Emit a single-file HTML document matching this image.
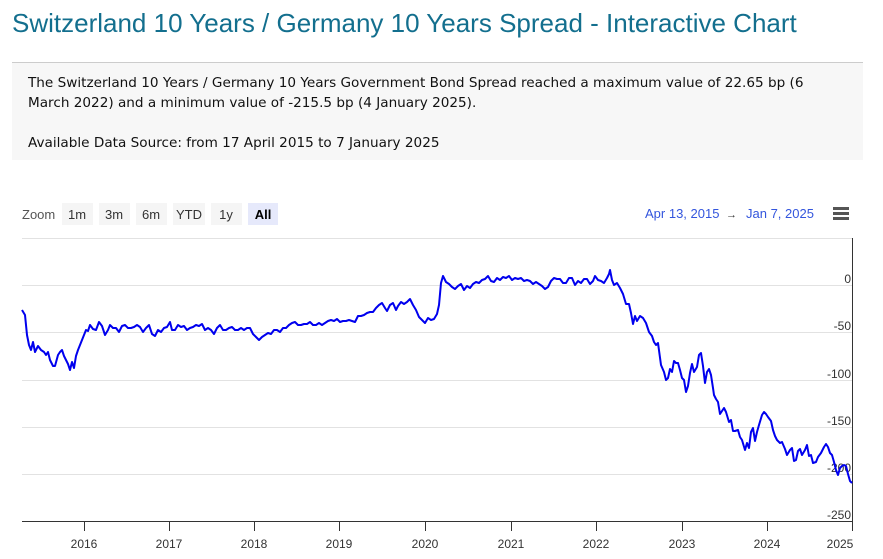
<!DOCTYPE html>
<html><head><style>
body{margin:0;width:883px;height:559px;background:#fff;position:relative;overflow:hidden;font-family:"Liberation Sans",sans-serif}
h1{position:absolute;left:12px;top:8px;margin:0;font-weight:normal;font-size:26px;color:#136f8e;white-space:nowrap}
.box{position:absolute;left:12px;top:62px;width:851px;height:97px;background:#f7f7f7;border-top:1px solid #ccc}
.box p{margin:0;position:absolute;left:16px;font-family:"DejaVu Sans",sans-serif;font-size:13.6px;line-height:20px;color:#111;width:820px}
</style></head><body>
<h1>Switzerland 10 Years / Germany 10 Years Spread - Interactive Chart</h1>
<div class="box">
<p style="top:10px">The Switzerland 10 Years / Germany 10 Years Government Bond Spread reached a maximum value of 22.65 bp (6 March 2022) and a minimum value of -215.5 bp (4 January 2025).</p>
<p style="top:70px">Available Data Source: from 17 April 2015 to 7 January 2025</p>
</div>
<svg width="883" height="559" style="position:absolute;left:0;top:0" font-family="Liberation Sans, sans-serif">
<text x="22" y="219" font-size="13" fill="#555">Zoom</text>
<g font-size="13" fill="#333" text-anchor="middle">
<rect x="62" y="203" width="31" height="22" fill="#f5f5f5"/><text x="77" y="219">1m</text>
<rect x="99" y="203" width="31" height="22" fill="#f5f5f5"/><text x="114" y="219">3m</text>
<rect x="136" y="203" width="31" height="22" fill="#f5f5f5"/><text x="151" y="219">6m</text>
<rect x="173" y="203" width="32" height="22" fill="#f5f5f5"/><text x="189" y="219">YTD</text>
<rect x="211" y="203" width="31" height="22" fill="#f5f5f5"/><text x="226" y="219">1y</text>
<rect x="248" y="203" width="30" height="22" fill="#e6e9fb"/><text x="263" y="219" font-weight="bold" fill="#000">All</text>
</g>
<text x="645" y="218" font-size="13" fill="#3355dd">Apr 13, 2015</text>
<text x="726" y="218" font-size="11" fill="#333">→</text>
<text x="746" y="218" font-size="13" fill="#3355dd">Jan 7, 2025</text>
<g fill="#555"><rect x="833" y="207" width="16" height="3"/><rect x="833" y="212" width="16" height="3"/><rect x="833" y="217" width="16" height="3"/></g>
<g stroke="#e2e2e2" stroke-width="1">
<line x1="22" x2="852" y1="238.5" y2="238.5"/><line x1="22" x2="852" y1="285.5" y2="285.5"/><line x1="22" x2="852" y1="332.5" y2="332.5"/><line x1="22" x2="852" y1="380.5" y2="380.5"/><line x1="22" x2="852" y1="427.5" y2="427.5"/><line x1="22" x2="852" y1="474.5" y2="474.5"/>
</g>
<line x1="22" x2="853" y1="521.5" y2="521.5" stroke="#333"/>
<line x1="852.5" x2="852.5" y1="238" y2="522" stroke="#333"/>
<g stroke="#333"><line x1="84.5" x2="84.5" y1="521" y2="531"/><line x1="169.5" x2="169.5" y1="521" y2="531"/><line x1="254.5" x2="254.5" y1="521" y2="531"/><line x1="339.5" x2="339.5" y1="521" y2="531"/><line x1="425.5" x2="425.5" y1="521" y2="531"/><line x1="511.5" x2="511.5" y1="521" y2="531"/><line x1="596.5" x2="596.5" y1="521" y2="531"/><line x1="682.5" x2="682.5" y1="521" y2="531"/><line x1="767.5" x2="767.5" y1="521" y2="531"/><line x1="852.5" x2="852.5" y1="521" y2="531"/></g>
<g font-size="12" fill="#333" text-anchor="middle">
<text x="84" y="548">2016</text><text x="169" y="548">2017</text><text x="254" y="548">2018</text><text x="339" y="548">2019</text><text x="425" y="548">2020</text><text x="511" y="548">2021</text><text x="596" y="548">2022</text><text x="682" y="548">2023</text><text x="767" y="548">2024</text><text x="840" y="548">2025</text>
</g>
<g font-size="12" fill="#333" text-anchor="end">
<text x="851" y="283">0</text><text x="851" y="330">-50</text><text x="851" y="378">-100</text><text x="851" y="425">-150</text><text x="851" y="472">-200</text><text x="851" y="519">-250</text>
</g>
<polyline fill="none" stroke="#0000ee" stroke-width="2" stroke-linejoin="round" points="22,310 25,315 27,335 29,345 31,350 33,342 35,352 38,346 41,350 44,352 46,355 48,352 50,360 53,366 55,366 58,355 60,352 62,350 64,356 66,360 68,364 70,370 72,362 74,368 76,356 78,350 80,345 82,340 84,335 86,330 88,331 90,325 93,329 96,330 99,322 102,326 105,335 108,330 110,325 113,328 116,328 119,332 122,326 125,325 128,328 131,328 134,327 137,325 140,327 143,332 146,328 149,325 152,334 155,336 158,330 161,332 164,328 167,327 170,322 172,330 175,330 178,325 181,327 184,326 187,330 190,328 193,327 196,325 199,326 202,324 205,330 208,328 211,330 214,334 217,328 220,325 223,330 226,330 229,328 232,327 235,330 238,330 241,328 244,330 247,328 250,328 253,334 256,337 259,340 262,337 265,335 268,333 271,334 274,330 277,330 280,332 283,328 286,328 289,325 292,323 295,322 298,325 301,325 304,324 307,324 310,322 313,325 316,325 319,323 322,325 325,323 328,321 331,320 334,321 337,319 340,322 343,321 346,321 349,320 352,321 355,322 358,316 361,316 364,315 367,313 370,312 373,312 376,308 379,305 382,303 385,308 387,311 390,305 393,303 396,310 398,306 401,302 404,304 407,302 410,299 413,305 416,310 419,317 422,320 425,323 428,318 431,320 434,319 437,314 439,305 441,283 443,276 446,282 449,284 452,287 455,289 458,286 461,284 464,290 467,286 470,288 473,284 476,282 479,283 482,280 485,279 488,276 491,281 494,282 497,278 500,280 503,277 506,278 509,276 512,280 515,278 518,279 521,278 524,281 527,280 530,281 533,284 536,282 539,284 542,286 545,289 548,287 551,281 554,278 557,279 560,279 563,283 566,283 569,278 572,278 575,285 578,281 581,283 584,279 587,279 590,284 593,281 595,276 598,280 601,281 604,283 607,278 609,274 610,270 612,280 614,285 617,283 620,288 623,294 626,304 629,304 631,313 633,324 635,316 637,321 640,316 643,318 646,323 649,332 652,336 654,342 656,345 658,343 661,365 664,372 666,380 668,378 670,369 672,372 674,361 676,363 678,363 680,370 682,378 684,380 686,392 688,386 690,373 692,364 694,372 697,367 699,355 701,353 703,366 705,383 707,372 709,369 711,375 713,388 714,395 716,399 718,402 720,414 722,411 724,408 726,412 729,422 731,420 733,431 735,431 738,430 740,437 742,440 745,450 747,443 749,448 751,432 753,428 755,441 757,432 759,425 762,415 764,412 766,414 768,417 771,421 773,430 775,436 777,440 780,443 782,442 785,449 787,455 790,450 792,448 794,461 796,460 798,451 800,449 802,455 805,450 807,445 809,456 811,455 813,463 816,462 818,457 821,453 824,447 826,444 828,447 830,453 832,455 834,462 836,470 838,475 840,468 842,466 844,465 846,466 848,474 850,481 852,483"/>
</svg>
</body></html>
